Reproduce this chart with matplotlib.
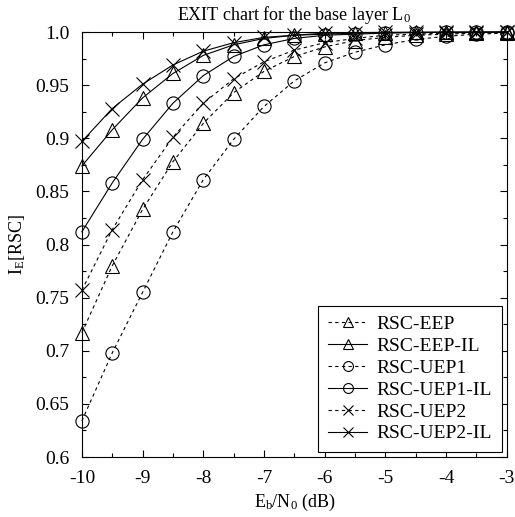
import matplotlib
matplotlib.use('Agg')
import matplotlib.pyplot as plt
import numpy as np

plt.rcParams['font.family'] = ['Liberation Serif', 'DejaVu Serif']
plt.rcParams['mathtext.fontset'] = 'custom'
plt.rcParams['mathtext.rm'] = 'Liberation Serif'
plt.rcParams['mathtext.it'] = 'Liberation Serif'
plt.rcParams['axes.unicode_minus'] = False

# Eb/N0 in dB
snr = [-10, -9.5, -9, -8.5, -8, -7.5, -7, -6.5, -6, -5.5, -5, -4.5, -4, -3.5, -3]

eep = [0.717, 0.780, 0.833, 0.878, 0.914, 0.943, 0.963, 0.977, 0.986, 0.992, 0.995, 0.997, 0.998, 0.999, 0.9995]
eep_il = [0.874, 0.908, 0.938, 0.961, 0.978, 0.988, 0.994, 0.997, 0.998, 0.999, 0.9995, 0.9997, 0.9998, 0.9999, 1.0]
uep1 = [0.634, 0.698, 0.755, 0.812, 0.861, 0.899, 0.930, 0.954, 0.971, 0.981, 0.988, 0.993, 0.996, 0.998, 0.999]
uep1_il = [0.812, 0.858, 0.899, 0.933, 0.959, 0.977, 0.988, 0.994, 0.997, 0.998, 0.999, 0.9995, 0.9997, 0.9998, 0.9999]
uep2 = [0.757, 0.814, 0.861, 0.901, 0.933, 0.956, 0.972, 0.983, 0.990, 0.994, 0.997, 0.998, 0.999, 0.9995, 0.9998]
uep2_il = [0.897, 0.928, 0.951, 0.969, 0.982, 0.990, 0.995, 0.997, 0.999, 0.9995, 0.9997, 0.9998, 0.9999, 1.0, 1.0]

series = [
    ('RSC-EEP', eep, '^', (0, (3, 3))),
    ('RSC-EEP-IL', eep_il, '^', '-'),
    ('RSC-UEP1', uep1, 'o', (0, (3, 3))),
    ('RSC-UEP1-IL', uep1_il, 'o', '-'),
    ('RSC-UEP2', uep2, 'x', (0, (3, 3))),
    ('RSC-UEP2-IL', uep2_il, 'x', '-'),
]

fig = plt.figure(figsize=(5.15, 5.17), dpi=100)
ax = fig.add_axes([0.159, 0.116, 0.825, 0.822])

for label, vals, mk, ls in series:
    ax.plot(snr, vals, color='black', linestyle=ls, linewidth=0.8,
            marker=mk, markersize=9.5, markerfacecolor='none',
            markeredgecolor='black', markeredgewidth=0.8, label=label, clip_on=False)

ax.set_xlim(-10, -3)
ax.set_ylim(0.6, 1.0)
ax.set_xticks(np.arange(-10, -2.5, 1))
ax.set_xticks(np.arange(-10, -2.9, 0.5), minor=True)
yt = [0.6, 0.65, 0.7, 0.75, 0.8, 0.85, 0.9, 0.95, 1.0]
ax.set_yticks(yt)
ax.set_yticklabels(['0.6', '0.65', '0.7', '0.75', '0.8', '0.85', '0.9', '0.95', '1.0'])
ax.set_yticks(np.arange(0.6, 1.001, 0.025), minor=True)
ax.tick_params(which='both', direction='in', top=True, right=True, labelsize=14)
ax.tick_params(which='major', length=5, width=0.8)
ax.tick_params(which='minor', length=3, width=0.8)
ax.tick_params(axis='y', pad=9)
ax.tick_params(axis='x', pad=9)
for s in ax.spines.values():
    s.set_linewidth(0.8)

ax.set_title(r'EXIT chart for the base layer L$_0$', fontsize=13, pad=9)
ax.set_xlabel(r'E$_\mathrm{b}$/N$_0$ (dB)', fontsize=13, labelpad=4)
ax.set_ylabel(r'I$_\mathrm{E}$[RSC]', fontsize=13, labelpad=6)

leg = ax.legend(loc='lower right', fontsize=14, frameon=True, fancybox=False,
                edgecolor='black', framealpha=1, handlelength=2.0,
                handletextpad=0.5, borderpad=0.5, markerscale=0.75,
                borderaxespad=0.25, labelspacing=0.22)
leg.get_frame().set_linewidth(0.8)

fig.savefig('out.png', dpi=100)
